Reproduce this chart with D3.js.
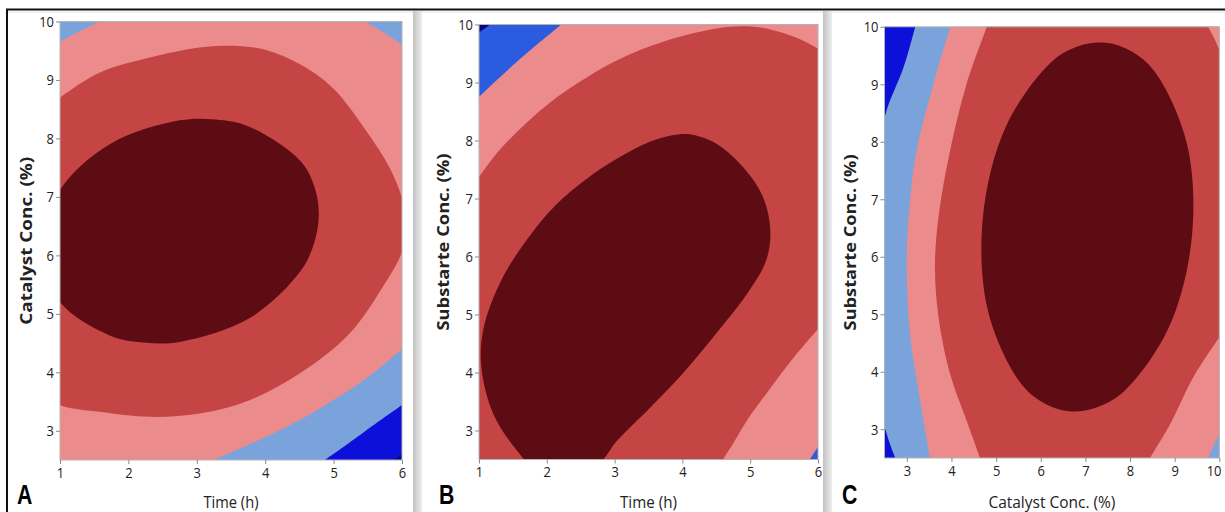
<!DOCTYPE html>
<html>
<head>
<meta charset="utf-8">
<script src="https://cdn.jsdelivr.net/npm/d3@7"></script>
<style>
  html, body { margin: 0; padding: 0; background: #ffffff; }
  svg { display: block; }
</style>
</head>
<body>
<script>
// ---------------- DATA (data units) ----------------
const aXTicks = [1, 2, 3, 4, 5, 6];
const bXTicks = [1, 2, 3, 4, 5, 6];
const cXTicks = [3, 4, 5, 6, 7, 8, 9, 10];
const yTicks = [3, 4, 5, 6, 7, 8, 9, 10];
const panelLetters = ["A", "B", "C"];
const xTitles = ["Time (h)", "Time (h)", "Catalyst Conc. (%)"];
const yTitles = ["Catalyst Conc. (%)", "Substarte Conc. (%)", "Substarte Conc. (%)"];

// Panel A : Time (x) vs Catalyst Conc. (y)
const aLightBlueTL = [[0.9,9.58],[1,9.65],[1.3,9.84],[1.58,10],[1.68,10.06]];
const aLightBlueTR = [[5.35,10.06],[5.45,10],[5.75,9.8],[6,9.6],[6.1,9.5]];
const aLightBlueBR = [[3.1,2.43],[3.24,2.5],[3.6,2.68],[4.02,2.9],[4.5,3.18],[4.99,3.52],[5.47,3.89],[6,4.4],[6.1,4.5]];
const aDeepBlueBR = [[4.75,2.4],[4.87,2.5],[5.2,2.77],[5.47,3.0],[6,3.44],[6.1,3.52]];
const aNavyBR = [[5.8,2.45],[5.87,2.5],[6,2.6],[6.1,2.68]];
const aRed = [[1,8.702],[1.584,9.129],[2.313,9.385],[3.043,9.556],[3.529,9.585],[4.016,9.511],[4.502,9.271],[4.988,8.862],[5.475,8.133],[5.815,7.507],[6.01,6.938],[6.07,6.48],[5.99,6.03],[5.718,5.458],[5.231,4.661],[4.502,3.978],[3.772,3.523],[3.043,3.295],[2.313,3.238],[1.584,3.324],[1,3.438],[0.416,3.81],[-0.167,5.91],[0.416,8.19]];
const aMaroon = [[4.784,6.710],[4.715,7.191],[4.512,7.618],[3.768,8.201],[3.276,8.322],[2.751,8.310],[1.734,7.906],[0.990,7.106],[0.718,6.118],[0.990,5.211],[1.734,4.627],[2.226,4.508],[2.751,4.519],[3.768,4.923],[4.512,5.723],[4.715,6.209]];

// Panel B : Time (x) vs Substrate Conc. (y)
const bRoyalTL = [[0.92,8.65],[1,8.75],[1.6,9.4],[2.21,10],[2.3,10.1]];
const bNavyTL = [[0.95,9.82],[1,9.86],[1.16,10],[1.2,10.05]];
const bRed = [[0.9,7.2],[1,7.37],[1.3,7.83],[1.8,8.41],[2.29,8.86],[3.03,9.38],[3.76,9.72],[4.5,9.93],[4.9,9.97],[5.24,9.93],[5.73,9.75],[6,9.58],[6.1,9.5]];
const bPinkBR = [[4.5,2.3],[4.6,2.5],[4.75,2.78],[4.99,3.24],[5.24,3.64],[5.6,4.2],[6,4.75],[6.1,4.88]];
const bRoyalBR = [[5.83,2.4],[5.88,2.5],[6,2.72],[6.1,2.9]];
const bMaroon = [[1.034,4.102],[1.065,4.75],[1.305,5.536],[1.65,6.2],[2.1,6.85],[2.6,7.35],[3.026,7.68],[3.5,7.97],[3.85,8.09],[4.107,8.107],[4.501,7.946],[4.894,7.544],[5.189,7.028],[5.297,6.454],[5.238,5.938],[4.992,5.422],[4.501,4.676],[4.009,3.987],[3.517,3.385],[3.026,2.811],[2.78,2.438],[2.386,2.209],[1.895,2.266],[1.551,2.668],[1.206,3.299]];

// Panel C : Catalyst Conc. (x) vs Substrate Conc. (y)
const cDeepBlueTL = [[2.42,8.3],[2.5,8.43],[2.59,8.65],[2.93,9.3],[3.19,10],[3.23,10.1]];
const cDeepBlueBL = [[2.42,3.2],[2.5,3.04],[2.62,2.75],[2.74,2.5],[2.78,2.4]];
const cPink = [[4.02,10.15],[3.97,10],[3.60,9.01],[3.22,7.85],[3.04,6.69],[3.0,5.82],[3.07,4.66],[3.30,3.5],[3.52,2.5],[3.56,2.35]];
const cRed = [[4.85,10.15],[4.79,10],[4.34,9.01],[3.97,7.85],[3.71,6.69],[3.63,5.82],[3.71,4.95],[3.97,3.96],[4.34,3.15],[4.64,2.5],[4.7,2.35]];
const cPinkTR = [[9.7,10.1],[9.75,10],[9.9,9.78],[10,9.59],[10.1,9.4]];
const cPinkBR = [[8.35,2.35],[8.45,2.5],[8.90,3.09],[9.42,3.91],[10,4.6],[10.1,4.72]];
const cLightBlueBR = [[9.7,2.4],[9.75,2.5],[10,2.92],[10.1,3.1]];
const cMaroon = [[7.459,9.721],[8.051,9.566],[8.572,9.201],[9.276,7.963],[9.384,6.335],[8.863,4.759],[7.856,3.652],[7.246,3.378],[6.631,3.314],[6.037,3.471],[5.517,3.836],[4.813,5.073],[4.706,6.700],[5.227,8.278],[6.234,9.385],[6.840,9.663]];

// ---------------- STYLE ----------------
const COLOR = {
  maroon: "#5e0c13",
  red: "#c54545",
  pink: "#ec8b8b",
  lightblue: "#7ba3db",
  royal: "#2b5bdf",
  deep: "#0c10d8",
  navy: "#07077f"
};

const panels = [
  { left: 60, right: 402, top: 21.5, bottom: 460, xDomain: [1, 6], xTicks: aXTicks,
    yTitleX: 25, yTitleLen: 168, xTitleLen: 55, letterX: 17, base: "pink",
    regions: [
      { c: "lightblue", pts: aLightBlueTL, corners: ["tl"] },
      { c: "lightblue", pts: aLightBlueTR, corners: ["tr"] },
      { c: "lightblue", pts: aLightBlueBR, corners: ["br"] },
      { c: "deep", pts: aDeepBlueBR, corners: ["br"] },
      { c: "navy", pts: aNavyBR, corners: ["br"] },
      { c: "red", pts: aRed, corners: null },
      { c: "maroon", pts: aMaroon, corners: null }
    ] },
  { left: 479, right: 818, top: 24.5, bottom: 459.5, xDomain: [1, 6], xTicks: bXTicks,
    yTitleX: 442, yTitleLen: 177, xTitleLen: 57, letterX: 439, base: "pink",
    regions: [
      { c: "royal", pts: bRoyalTL, corners: ["tl"] },
      { c: "navy", pts: bNavyTL, corners: ["tl"] },
      { c: "red", pts: bRed, corners: ["br", "bl"] },
      { c: "pink", pts: bPinkBR, corners: ["br"] },
      { c: "royal", pts: bRoyalBR, corners: ["br"] },
      { c: "maroon", pts: bMaroon, corners: null }
    ] },
  { left: 884.5, right: 1219.3, top: 26.8, bottom: 458, xDomain: [2.5, 10], xTicks: cXTicks,
    yTitleX: 849.5, yTitleLen: 176, xTitleLen: 127, letterX: 842, base: "lightblue",
    regions: [
      { c: "deep", pts: cDeepBlueTL, corners: ["tl"] },
      { c: "deep", pts: cDeepBlueBL, corners: ["bl"] },
      { c: "pink", pts: cPink, corners: ["br", "tr"] },
      { c: "red", pts: cRed, corners: ["br", "tr"] },
      { c: "pink", pts: cPinkTR, corners: ["tr"] },
      { c: "pink", pts: cPinkBR, corners: ["br"] },
      { c: "lightblue", pts: cLightBlueBR, corners: ["br"] },
      { c: "maroon", pts: cMaroon, corners: null }
    ] }
];

const W = 1225, H = 512;
const svg = d3.select("body").append("svg").attr("width", W).attr("height", H);
const defs = svg.append("defs");

// separator gradient
const grad = defs.append("linearGradient").attr("id", "sepGrad").attr("x1", "0").attr("x2", "1");
grad.append("stop").attr("offset", "0").attr("stop-color", "#c2c2c2");
grad.append("stop").attr("offset", "1").attr("stop-color", "#eeeeee");

// outer frame
svg.append("line").attr("x1", 6).attr("x2", W).attr("y1", 9.5).attr("y2", 9.5)
  .attr("stroke", "#111").attr("stroke-width", 2);
svg.append("line").attr("x1", 7).attr("x2", 7).attr("y1", 9).attr("y2", H)
  .attr("stroke", "#111").attr("stroke-width", 2);
svg.append("line").attr("x1", 8).attr("x2", W).attr("y1", 12).attr("y2", 12)
  .attr("stroke", "#e4e4e4").attr("stroke-width", 1);
[413, 823].forEach(x => {
  svg.append("rect").attr("x", x).attr("y", 11).attr("width", 9).attr("height", H - 11)
    .attr("fill", "url(#sepGrad)");
});

const FONT = "'Open Sans', 'DejaVu Sans', sans-serif";

panels.forEach((p, i) => {
  const x = d3.scaleLinear().domain(p.xDomain).range([p.left, p.right]);
  const y = d3.scaleLinear().domain([2.5, 10]).range([p.bottom, p.top]);
  const pad = 40;
  const cornerPx = {
    tl: [p.left - pad, p.top - pad], tr: [p.right + pad, p.top - pad],
    br: [p.right + pad, p.bottom + pad], bl: [p.left - pad, p.bottom + pad]
  };
  const clipId = "clip" + i;
  defs.append("clipPath").attr("id", clipId).append("rect")
    .attr("x", p.left).attr("y", p.top).attr("width", p.right - p.left).attr("height", p.bottom - p.top);

  const g = svg.append("g").attr("clip-path", `url(#${clipId})`);
  g.append("rect").attr("x", p.left).attr("y", p.top)
    .attr("width", p.right - p.left).attr("height", p.bottom - p.top)
    .attr("fill", COLOR[p.base]);

  const openLine = d3.line().x(d => x(d[0])).y(d => y(d[1])).curve(d3.curveCatmullRom.alpha(0.5));
  const closedLine = d3.line().x(d => x(d[0])).y(d => y(d[1])).curve(d3.curveCatmullRomClosed.alpha(0.5));

  p.regions.forEach(r => {
    let dStr;
    if (!r.corners) {
      dStr = closedLine(r.pts);
    } else {
      dStr = openLine(r.pts) + r.corners.map(k => "L" + cornerPx[k][0] + "," + cornerPx[k][1]).join("") + "Z";
    }
    g.append("path").attr("d", dStr).attr("fill", COLOR[r.c]);
  });

  // plot frame
  svg.append("rect").attr("x", p.left).attr("y", p.top)
    .attr("width", p.right - p.left).attr("height", p.bottom - p.top)
    .attr("fill", "none").attr("stroke", "#b4b4b4").attr("stroke-width", 1);

  // axes
  const xa = svg.append("g").attr("transform", `translate(0,${p.bottom})`)
    .call(d3.axisBottom(x).tickValues(p.xTicks).tickSize(4).tickSizeOuter(0).tickPadding(3).tickFormat(d3.format("d")));
  const ya = svg.append("g").attr("transform", `translate(${p.left},0)`)
    .call(d3.axisLeft(y).tickValues(yTicks).tickSize(4).tickSizeOuter(0).tickPadding(2).tickFormat(d3.format("d")));
  [xa, ya].forEach(a => {
    a.select(".domain").remove();
    a.selectAll(".tick line").attr("stroke", "#8a8a8a");
    a.selectAll(".tick text").attr("fill", "#222").style("font-family", FONT).style("font-size", "15px")
      .attr("textLength", d => String(d).length * 7.4).attr("lengthAdjust", "spacingAndGlyphs");
  });
  if (i === 2) {
    // keep the last label inside the picture
    xa.selectAll(".tick text").filter(d => d === 10)
      .attr("text-anchor", "end").attr("x", (W - 4) - x(10));
  }

  // axis titles
  svg.append("text").attr("x", (p.left + p.right) / 2).attr("y", 508)
    .attr("text-anchor", "middle").attr("fill", "#222")
    .style("font-family", FONT).style("font-size", "16px")
    .attr("textLength", p.xTitleLen).attr("lengthAdjust", "spacingAndGlyphs")
    .text(xTitles[i]);
  svg.append("text").attr("transform", `translate(${p.yTitleX},${(p.top + p.bottom) / 2}) rotate(-90)`)
    .attr("text-anchor", "middle").attr("dominant-baseline", "central").attr("fill", "#222")
    .style("font-family", FONT).style("font-size", "16.5px").style("font-weight", "bold")
    .attr("textLength", p.yTitleLen).attr("lengthAdjust", "spacingAndGlyphs")
    .text(yTitles[i]);

  // panel letter
  svg.append("text").attr("transform", `translate(${p.letterX},504) scale(0.76,1)`)
    .attr("fill", "#000")
    .style("font-family", "'Liberation Sans', Arial, sans-serif").style("font-size", "28px").style("font-weight", "bold")
    .text(panelLetters[i]);
});
</script>
</body>
</html>
